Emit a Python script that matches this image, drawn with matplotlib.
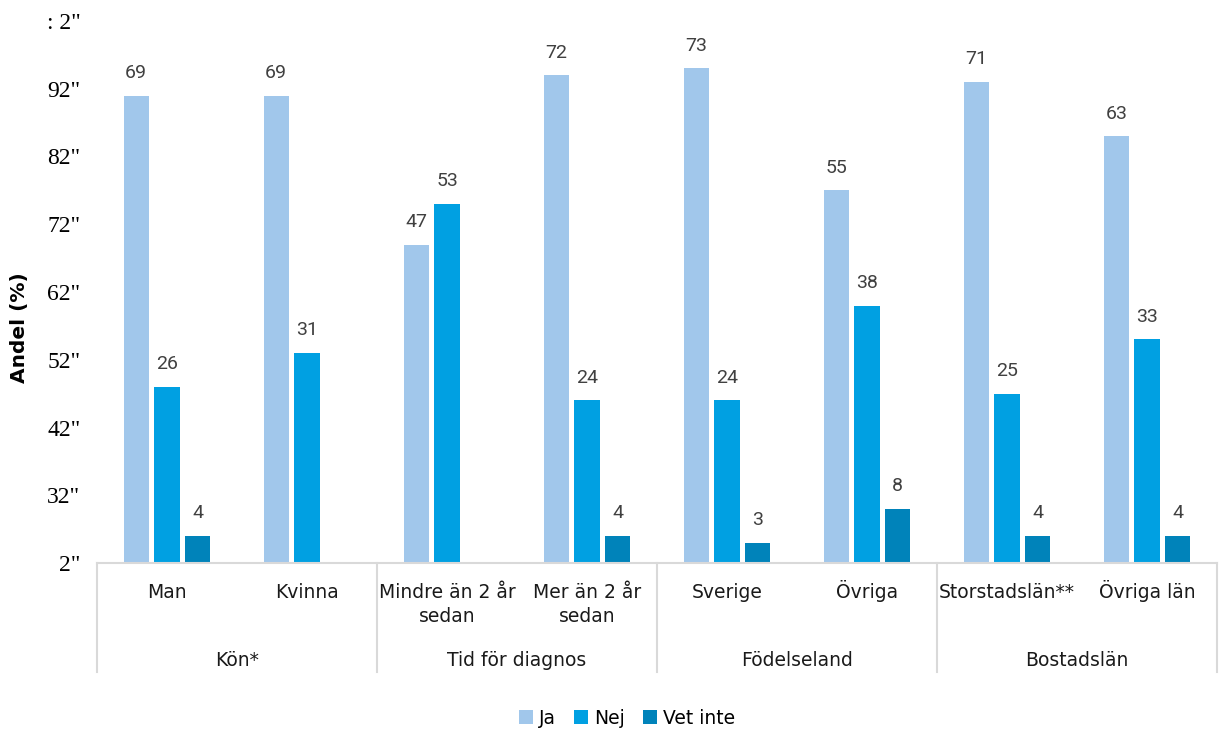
import numpy as np
import matplotlib
matplotlib.use('Agg')
import matplotlib.pyplot as plt
from matplotlib.lines import Line2D
from matplotlib.patches import Patch

# data
categories = ['Man', 'Kvinna', 'Mindre än 2 år\nsedan', 'Mer än 2 år\nsedan',
              'Sverige', 'Övriga', 'Storstadslän**', 'Övriga län']
groups = ['Kön*', 'Tid för diagnos', 'Födelseland', 'Bostadslän']
ja = [69, 69, 47, 72, 73, 55, 71, 63]
nej = [26, 31, 53, 24, 24, 38, 25, 33]
vet_inte = [4, None, None, 4, 3, 8, 4, 4]
series_names = ['Ja', 'Nej', 'Vet inte']
# tick labels exactly as shown (garbled font in the original)
ytick_vals = [0, 10, 20, 30, 40, 50, 60, 70, 80]
ytick_labels = ['2"', '32"', '42"', '52"', '62"', '72"', '82"', '92"', ': 2"']

colors = ['#A1C7EB', '#00A0E2', '#0083BA']
grid_col = '#D9D9D9'
sans = ['DejaVu Sans']

fig = plt.figure(figsize=(12.21, 7.31), dpi=100)
ax = fig.add_axes([97/1221, 1-563/731, 1120/1221, 542/731])

x = np.arange(len(categories))
w = 0.18
offsets = [-0.22, 0.0, 0.22]
for k, vals in enumerate([ja, nej, vet_inte]):
    for i, v in enumerate(vals):
        if v is None:
            continue
        ax.bar(x[i] + offsets[k], v, width=w, color=colors[k], zorder=2)
        ax.text(x[i] + offsets[k], v + 2.0, str(v), ha='center', va='bottom',
                fontsize=14, color='#404040', family='Roboto')

ax.set_xlim(-0.5, len(categories) - 0.5)
ax.set_ylim(0, 80)
ax.set_yticks(ytick_vals)
ax.set_yticklabels(ytick_labels, family=['Liberation Serif', 'serif'], fontsize=17)
ax.tick_params(axis='y', length=0, pad=12)
ax.set_xticks([])
for s in ['top', 'right', 'left']:
    ax.spines[s].set_visible(False)
ax.spines['bottom'].set_color(grid_col)
ax.spines['bottom'].set_linewidth(1.5)

ax.set_ylabel('Andel (%)', fontsize=14.5, fontweight='bold', family=sans)
ax.yaxis.set_label_coords(-0.061, 0.435)

# multi-level category axis
trans = ax.get_xaxis_transform()
for b in [-0.5, 1.5, 3.5, 5.5, 7.5]:
    ax.add_line(Line2D([b, b], [0, -109/542], transform=trans, color=grid_col,
                       lw=1.5, clip_on=False))
for i, c in enumerate(categories):
    for j, line in enumerate(c.split('\n')):
        ax.text(x[i], -(35 + 24 * j)/542, line, transform=trans, ha='center',
                va='baseline', fontsize=13.5, color='#1a1a1a', family=sans)
for g, name in enumerate(groups):
    ax.text(2 * g + 0.5, -103/542, name, transform=trans, ha='center',
            va='baseline', fontsize=13.5, color='#1a1a1a', family=sans)

handles = [Patch(facecolor=c, edgecolor='none') for c in colors]
fig.legend(handles, series_names, loc='center', bbox_to_anchor=(627/1221, 1-718/731),
           ncol=3, frameon=False, prop={'family': sans, 'size': 13.5},
           handlelength=0.75, handleheight=0.75, handletextpad=0.3, columnspacing=1.0)

fig.savefig('out.png', dpi=100)
